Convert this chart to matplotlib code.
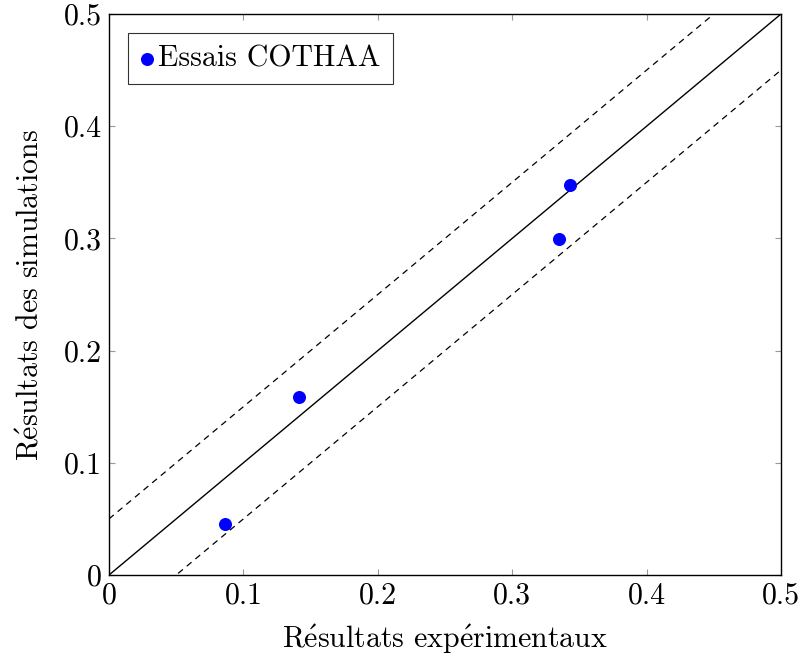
import matplotlib
matplotlib.use("Agg")
import matplotlib.pyplot as plt

plt.rcParams['font.family'] = ['cmr10', 'DejaVu Serif']
plt.rcParams['mathtext.fontset'] = 'cm'
plt.rcParams['axes.formatter.use_mathtext'] = True

# essais COTHAA : experimental vs simulated
x_exp = [0.0865, 0.1415, 0.335, 0.343]
y_sim = [0.0455, 0.1585, 0.2995, 0.348]
ref_line = [0.0, 0.5]
band = 0.05

E = r"$\mathrm{\acute{e}}$"
fs = 21.5

fig = plt.figure(figsize=(8.01, 6.6), dpi=100)
ax = fig.add_axes([109/801, 1 - 575/660, (781-109)/801, (575-14)/660])

ax.plot(ref_line, ref_line, color="black", lw=1.0)
ax.plot(ref_line, [v + band for v in ref_line], color="black", lw=0.9, ls=(0, (5, 4)))
ax.plot(ref_line, [v - band for v in ref_line], color="black", lw=0.9, ls=(0, (5, 4)))
ax.scatter(x_exp, y_sim, s=70, color="blue", zorder=3, label="Essais COTHAA")

ax.set_xlim(0, 0.5)
ax.set_ylim(0, 0.5)
ticks = [0, 0.1, 0.2, 0.3, 0.4, 0.5]
tlabels = ["0", "0.1", "0.2", "0.3", "0.4", "0.5"]
ax.set_xticks(ticks, tlabels)
ax.set_yticks(ticks, tlabels)
ax.tick_params(direction="in", top=True, right=True, length=4, width=0.8,
               color="#999999", labelsize=fs, pad=5)
for s in ax.spines.values():
    s.set_linewidth(1.0)

ax.set_xlabel("R" + E + "sultats exp" + E + "rimentaux", fontsize=fs, labelpad=9)
ax.set_ylabel("R" + E + "sultats des simulations", fontsize=fs, labelpad=14)

leg = ax.legend(loc="upper left", fontsize=fs, handletextpad=0.15, handlelength=0.45,
                borderpad=0.4, fancybox=False, edgecolor="black",
                bbox_to_anchor=(0.029, 0.966), borderaxespad=0.0)
leg.get_frame().set_linewidth(0.8)

fig.savefig("out.png", dpi=100, facecolor="white")
